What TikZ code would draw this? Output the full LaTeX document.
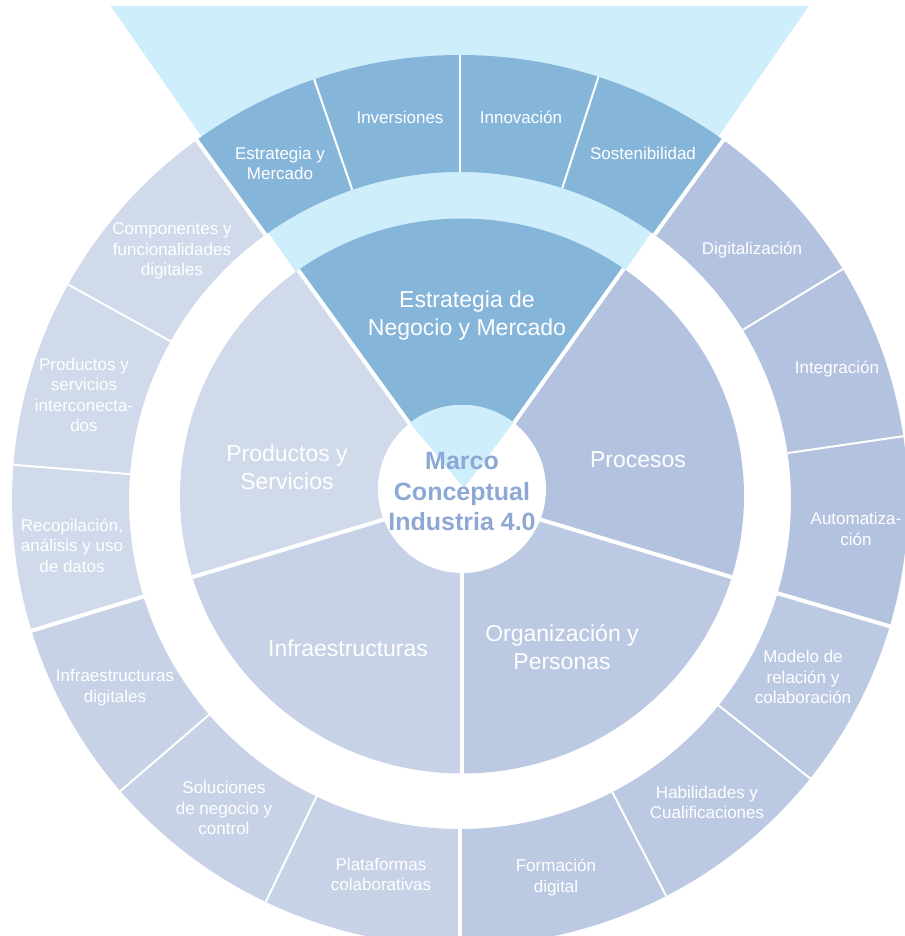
\documentclass[tikz,border=0pt]{standalone}
\usepackage{fontspec}
\setmainfont{Liberation Sans}
\usetikzlibrary{calc}

\definecolor{funnel}{HTML}{CFEEFB}
\definecolor{estrat}{HTML}{86B5DA}
\definecolor{proc}{HTML}{B3C3DF}
\definecolor{orga}{HTML}{BCC9E2}
\definecolor{infra}{HTML}{C7D2E7}
\definecolor{prod}{HTML}{D0DAEA}
\definecolor{marco}{HTML}{8DA8D5}

\tikzset{
	outerlbl/.style={text=white, align=center, inner sep=0pt, font=\fontsize{17}{20.5}\selectfont},
	innerlbl/.style={text=white, align=center, inner sep=0pt, font=\fontsize{23}{28}\selectfont},
	centerlbl/.style={text=marco, align=center, inner sep=0pt, font=\bfseries\fontsize{25}{30.5}\selectfont},
	sepline/.style={white, line width=2pt},
	groupline/.style={white, line width=4pt}
}

\begin{document}
\begin{tikzpicture}[x=1pt, y=1pt]
		\useasboundingbox (0,0) rectangle (904,-936);
		\coordinate (ring) at (460,-500.5);
		\coordinate (core) at (462,-496);
		\coordinate (hub) at (462,-489);
		\coordinate (tip) at (464,-488);
		\coordinate (vl) at ($(core)+(125.5:90)$);
		\coordinate (vr) at ($(core)+(55:90)$);

		\fill[funnel] (110.7,-6) -- (809,-6) -- (460,-508) -- cycle;

		\foreach \a/\b/\c in {54/72/estrat, 72/90/estrat, 90/109/estrat, 109/126/estrat,
			126/151/prod, 151/175.4/prod, 175.4/197/prod,
			197/220.7/infra, 220.7/244.3/infra, 244.3/270/infra,
			270/297.4/orga, 297.4/321.4/orga, 321.4/343.6/orga,
			343.6/368.3/proc, 368.3/391.3/proc, 391.3/414/proc}
			\fill[\c] ($(ring)+(\a:331 and 328.5)$) arc[start angle=\a, end angle=\b, x radius=331, y radius=328.5]
				-- ($(ring)+(\b:448 and 445.5)$) arc[start angle=\b, end angle=\a, x radius=448, y radius=445.5] -- cycle;
		\foreach \a in {72, 90, 109, 151, 175.4, 220.7, 244.3, 297.4, 321.4, 368.3, 391.3}
			\draw[sepline] ($(ring)+(\a:331 and 328.5)$) -- ($(ring)+(\a:448 and 445.5)$);
		\foreach \a in {54, 126, 197, 270, 343.6}
			\draw[groupline] ($(ring)+(\a:331 and 328.5)$) -- ($(ring)+(\a:450 and 447.5)$);

		\foreach \a/\b/\c in {55/125.5/estrat, 125.5/197/prod, 197/270/infra, 270/343/orga, 343/415/proc}
			\fill[\c] (core) -- ($(core)+(\a:282 and 277.5)$) arc[start angle=\a, end angle=\b, x radius=282, y radius=277.5] -- cycle;
		\foreach \a in {55, 125.5, 197, 270, 343}
			\draw[groupline] (core) -- ($(core)+(\a:282 and 277.5)$);

		\fill[white] (hub) circle[radius=84];
		\begin{scope}
			\clip (hub) circle[radius=84];
			\fill[funnel] (tip) -- ($(tip)!2!(vl)$) -- ($(tip)!2!(vr)$) -- cycle;
		\end{scope}

		\node[innerlbl] (negocio) at (467,-316) {Estrategia de\\Negocio y Mercado};
		\node[innerlbl] (procesos) at (638,-460) {Procesos};
		\node[innerlbl] (personas) at (562,-647) {Organización y\\Personas};
		\node[innerlbl] (infraest) at (348,-648) {Infraestructuras};
		\node[innerlbl] (productos) at (287,-467.5) {Productos y\\Servicios};
		\node[centerlbl] (marco) at (462,-492) {Marco\\Conceptual\\Industria 4.0};

		\node[outerlbl] (mercado) at (280,-163.5) {Estrategia y\\Mercado};
		\node[outerlbl] (inversiones) at (400,-117.5) {Inversiones};
		\node[outerlbl] (innovacion) at (521,-117.5) {Innovación};
		\node[outerlbl] (sostenib) at (643,-153.5) {Sostenibilidad};
		\node[outerlbl] (digitaliz) at (752,-250) {Digitalización};
		\node[outerlbl] (integracion) at (837,-369) {Integración};
		\node[outerlbl] (automatiz) at (856,-529) {Automatiza-\\ción};
		\node[outerlbl] (modelo) at (803,-677) {Modelo de\\relación y\\colaboración};
		\node[outerlbl] (habilidades) at (707,-802.5) {Habilidades y\\Cualificaciones};
		\node[outerlbl] (formacion) at (556,-877.5) {Formación\\digital};
		\node[outerlbl] (plataformas) at (381,-874.5) {Plataformas\\colaborativas};
		\node[outerlbl] (soluciones) at (224,-808) {Soluciones\\de negocio y\\control};
		\node[outerlbl] (infradig) at (115,-687.5) {Infraestructuras\\digitales};
		\node[outerlbl] (recopil) at (72,-545.5) {Recopilación,\\análisis y uso\\de datos};
		\node[outerlbl] (interconec) at (84,-395) {Productos y\\servicios\\interconecta-\\dos};
		\node[outerlbl] (componentes) at (172,-251) {Componentes y\\funcionalidades\\digitales};
	\end{tikzpicture}
\end{document}
